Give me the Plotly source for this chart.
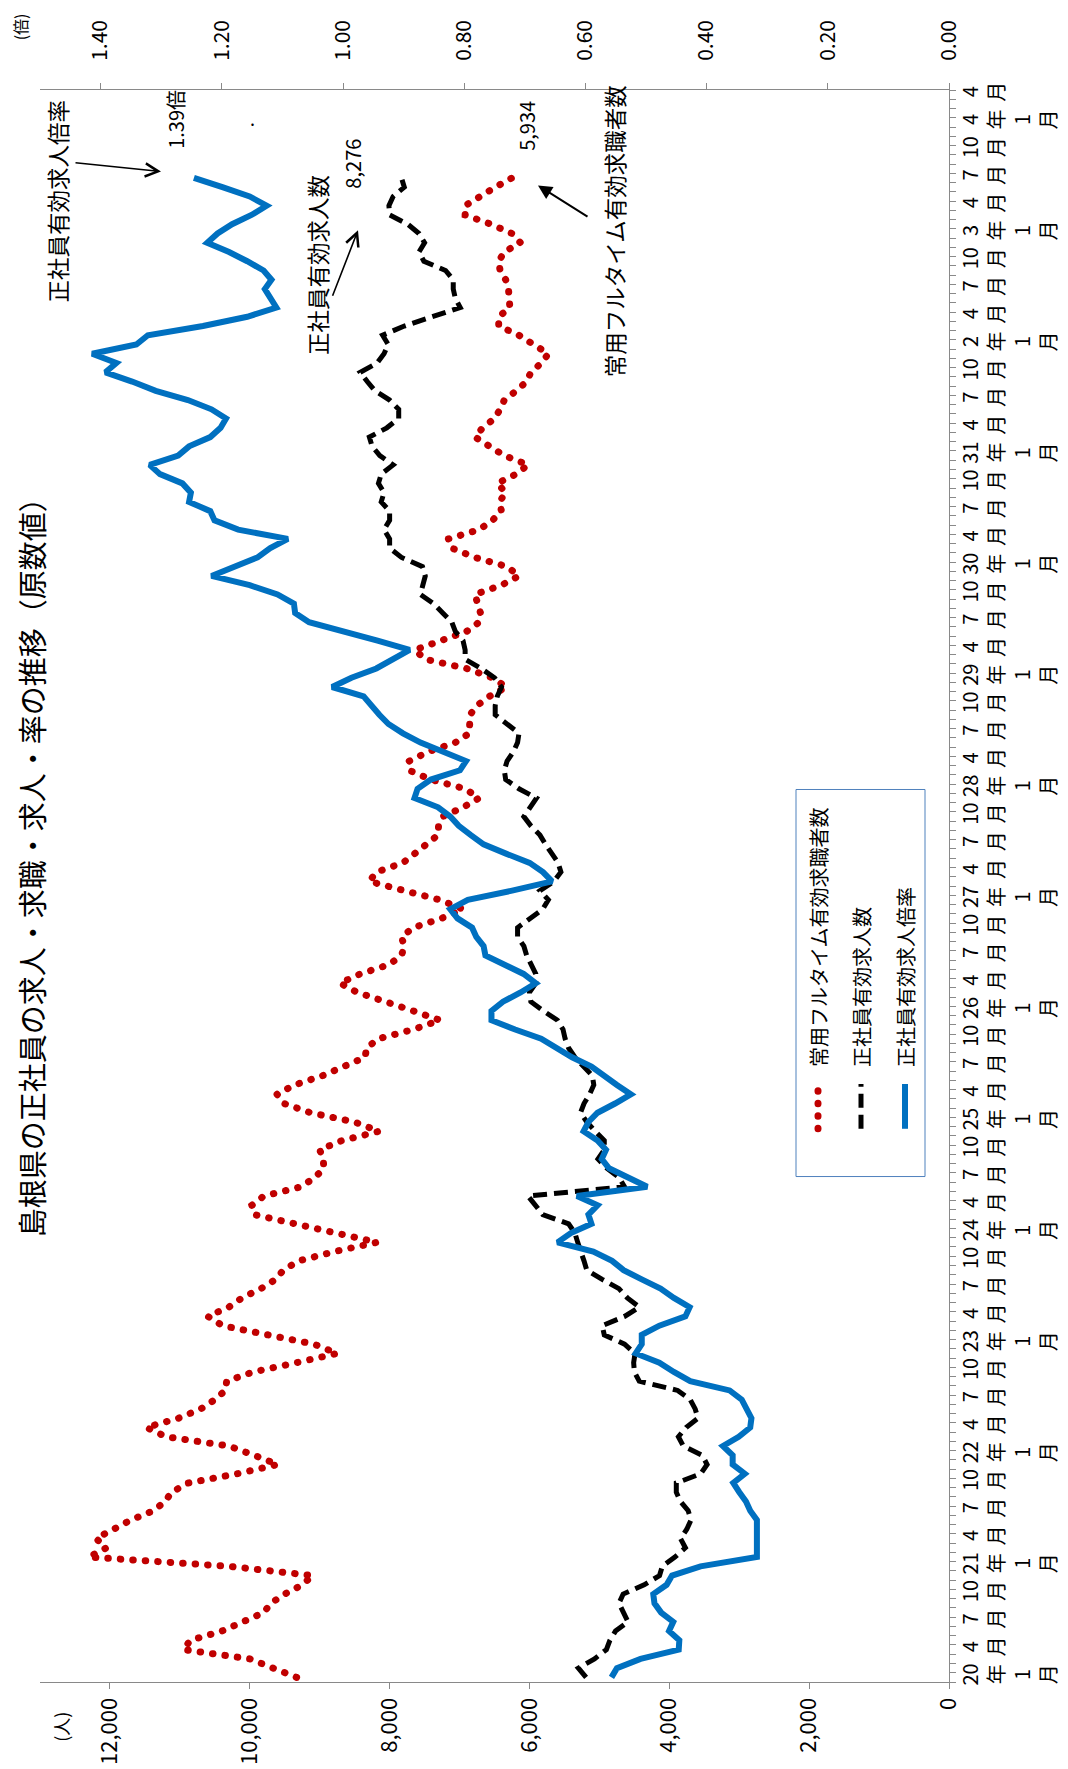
import plotly.graph_objects as go

# ---------------- data ----------------
# calendar months shown on the category axis (H20.1 .. R4.4)
months = [f"{2008 + i // 12}-{i % 12 + 1:02d}" for i in range(172)]
# Japanese era year shown on each January label
era_years = ["20", "21", "22", "23", "24", "25", "26", "27", "28", "29", "30", "31", "2", "3", "4"]

# 常用フルタイム有効求職者数 (persons), 2008-01 .. 2021-07
red = [9330, 9660, 10000, 10950, 10850, 10400, 10100, 9800, 9700, 9500, 9250, 9100,
       10300, 12300, 12050, 12200, 11950, 11700, 11380, 11210, 11120, 10880, 10180, 9600,
       9940, 10300, 11200, 11480, 11020, 10700, 10500, 10350, 10330, 9950, 9330, 8750,
       9080, 9760, 10390, 10600, 10300, 10110, 9840, 9630, 9520, 9300, 8790, 8180,
       8790, 9300, 9940, 9970, 9800, 9270, 9070, 8940, 8950, 9000, 8680, 8150,
       8500, 9130, 9510, 9610, 9360, 8960, 8630, 8350, 8330, 8160, 7660, 7280,
       7660, 8040, 8460, 8710, 8420, 8010, 7830, 7790, 7830, 7660, 7260, 6950,
       7280, 7790, 8290, 8190, 7810, 7640, 7480, 7310, 7300, 7240, 6950, 6720,
       6920, 7410, 7720, 7720, 7450, 7060, 6860, 6860, 6850, 6750, 6570, 6330,
       6530, 6900, 7490, 7640, 7240, 6900, 6720, 6700, 6740, 6780, 6400, 6150,
       6320, 6780, 7110, 7160, 6720, 6530, 6400, 6430, 6340, 6460, 6190, 6020,
       6360, 6570, 6780, 6670, 6500, 6420, 6360, 6190, 6040, 5980, 5830, 5730,
       5940, 6150, 6440, 6440, 6280, 6280, 6300, 6340, 6420, 6440, 6360, 6130,
       6250, 6550, 6920, 6920, 6720, 6490, 6250]

# 正社員有効求人数 (persons)
black = [5190, 5300, 5070, 4900, 4850, 4770, 4590, 4660, 4720, 4660, 4360, 4140,
         4100, 3920, 3770, 3840, 3750, 3690, 3730, 3840, 3900, 3900, 3550, 3460,
         3530, 3800, 3870, 3760, 3590, 3630, 3700, 3880, 4430, 4500, 4510, 4490,
         4640, 4930, 4960, 4640, 4430, 4600, 4720, 4960, 5180, 5220, 5270, 5310,
         5350, 5440, 5810, 5910, 6020, 4640, 4720, 4890, 5020, 4930, 4930, 5060,
         5180, 5270, 5220, 5140, 5080, 5100, 5220, 5350, 5440, 5490, 5520, 5600,
         5800, 5980, 6000, 5910, 5910, 5980, 6040, 6080, 6170, 6170, 5980, 5810,
         5730, 5850, 5650, 5550, 5590, 5690, 5770, 5850, 5980, 6080, 5980, 5900,
         6150, 6340, 6360, 6320, 6230, 6170, 6150, 6320, 6490, 6490, 6460, 6400,
         6500, 6690, 6920, 6920, 6950, 7060, 7110, 7240, 7370, 7560, 7530, 7490,
         7530, 7830, 8000, 8000, 8080, 8000, 8000, 8120, 8080, 8160, 8120, 7950,
         8140, 8250, 8290, 8040, 7870, 7870, 8000, 8210, 8320, 8420, 8180, 8080,
         8020, 8100, 7790, 7410, 6990, 7060, 7090, 7090, 7200, 7510, 7580, 7500,
         7580, 7740, 8000, 8010, 7950, 7790, 7830]

# 正社員有効求人倍率 (times)
blue = [0.557, 0.548, 0.509, 0.446, 0.445, 0.462, 0.455, 0.475, 0.486, 0.488, 0.466, 0.457,
        0.410, 0.317, 0.317, 0.317, 0.317, 0.317, 0.328, 0.335, 0.346, 0.356, 0.337, 0.357,
        0.357, 0.373, 0.347, 0.328, 0.326, 0.333, 0.342, 0.362, 0.427, 0.454, 0.478, 0.517,
        0.507, 0.507, 0.478, 0.435, 0.428, 0.454, 0.476, 0.507, 0.537, 0.556, 0.587, 0.646,
        0.624, 0.590, 0.595, 0.580, 0.614, 0.498, 0.527, 0.561, 0.573, 0.566, 0.580, 0.603,
        0.595, 0.580, 0.551, 0.525, 0.548, 0.568, 0.590, 0.622, 0.646, 0.673, 0.716, 0.755,
        0.755, 0.736, 0.707, 0.682, 0.702, 0.731, 0.765, 0.768, 0.780, 0.787, 0.811, 0.823,
        0.794, 0.721, 0.655, 0.670, 0.692, 0.731, 0.768, 0.789, 0.809, 0.823, 0.843, 0.882,
        0.877, 0.855, 0.807, 0.797, 0.838, 0.872, 0.901, 0.925, 0.940, 0.952, 0.966, 1.018,
        0.986, 0.945, 0.915, 0.890, 0.943, 1.003, 1.056, 1.079, 1.081, 1.108, 1.154, 1.217,
        1.180, 1.141, 1.120, 1.091, 1.173, 1.212, 1.219, 1.254, 1.251, 1.265, 1.302, 1.319,
        1.272, 1.254, 1.219, 1.202, 1.193, 1.217, 1.256, 1.309, 1.348, 1.392, 1.374, 1.414,
        1.341, 1.322, 1.231, 1.158, 1.110, 1.121, 1.129, 1.118, 1.131, 1.158, 1.188, 1.224,
        1.207, 1.183, 1.151, 1.126, 1.154, 1.199, 1.246]

people_ticks = [0, 2000, 4000, 6000, 8000, 10000, 12000]
ratio_ticks = [0.0, 0.2, 0.4, 0.6, 0.8, 1.0, 1.2, 1.4]

series_names = ["常用フルタイム有効求職者数", "正社員有効求人数", "正社員有効求人倍率"]
title_text = "島根県の正社員の求人・求職・求人・率の推移（原数値）"
end_labels = ["1.39倍", "8,276", "5,934"]

# ---------------- layout helpers ----------------
W, H = 1068, 1769
PL, PR, PT, PB = 32, 941, 80, 1680   # plot area in pixels
FONT = "Noto Sans CJK JP"
RED, BLK, BLU, AX = "#C00000", "#000000", "#0070C0", "#898989"
RED_LINE = dict(color=RED, width=7, dash="0.5px,12px")   # round caps added in the page
BLK_LINE = dict(color=BLK, width=5, dash="14px,7px")
BLU_LINE = dict(color=BLU, width=6)


def fx(p):
    return (p - PL) / (PR - PL)


def fy(p):
    return (PB - p) / (PB - PT)


pos = list(range(len(months)))
tick_pos, tick_text = [], []
for i in pos:
    mo = i % 12 + 1
    if mo in (1, 4, 7, 10):
        tick_pos.append(i)
        if mo == 1:
            tick_text.append(f"{era_years[i // 12]}<br>年<br>1<br>月")
        else:
            tick_text.append(f"{mo}<br>月")

fig = go.Figure()
fig.add_trace(go.Scatter(x=red, y=pos[:len(red)], mode="lines", name=series_names[0],
                         line=RED_LINE, xaxis="x", yaxis="y"))
fig.add_trace(go.Scatter(x=black, y=pos[:len(black)], mode="lines", name=series_names[1],
                         line=BLK_LINE, xaxis="x", yaxis="y"))
fig.add_trace(go.Scatter(x=blue, y=pos[:len(blue)], mode="lines", name=series_names[2],
                         line=BLU_LINE, xaxis="x2", yaxis="y"))

fig.update_layout(
    width=W, height=H, autosize=False,
    margin=dict(l=PL, r=W - PR, t=PT, b=H - PB, pad=0),
    paper_bgcolor="white", plot_bgcolor="white",
    showlegend=False,
    font=dict(family=FONT, color="#000000"),
    xaxis=dict(range=[13000, 0], tickvals=people_ticks,
               ticktext=[f"{v:,}" for v in people_ticks], tickangle=-90,
               ticks="outside", ticklen=6, tickcolor=AX, showline=True, linecolor=AX,
               linewidth=1, showgrid=False, zeroline=False, tickfont=dict(size=22)),
    xaxis2=dict(range=[1.5, 0], tickvals=ratio_ticks,
                ticktext=[f"{v:.2f}" for v in ratio_ticks], tickangle=-90,
                overlaying="x", side="top", anchor="y", ticklabelstandoff=18,
                ticks="outside", ticklen=6, tickcolor=AX, showline=True, linecolor=AX,
                linewidth=1, showgrid=False, zeroline=False, tickfont=dict(size=21)),
    yaxis=dict(range=[-0.5, len(months) - 0.5], side="right", tickvals=tick_pos,
               ticktext=tick_text, tickangle=-90, ticks="", showline=True,
               linecolor=AX, linewidth=1, showgrid=False, zeroline=False,
               tickfont=dict(size=20), ticklabelstandoff=4,
               minor=dict(ticks="outside", tick0=-0.5, dtick=1, ticklen=6,
                          tickcolor=AX, tickwidth=1, showgrid=False)),
)


def rot_text(text, x, y, size, yanchor="middle"):
    return dict(text=text, x=fx(x), y=fy(y), xref="paper", yref="paper",
                textangle=-90, showarrow=False, font=dict(size=size),
                xanchor="center", yanchor=yanchor)


ann = [
    rot_text(title_text, 23, 854, 29),
    rot_text("(倍)", 12, 17, 16),
    rot_text("(人)", 53, 1725, 18),
    rot_text(series_names[2], 49, 192, 22.5),
    rot_text(series_names[1], 309, 256, 22.5),
    rot_text(series_names[0], 606, 222, 22.5),
    rot_text(end_labels[0], 168, 110, 20),
    rot_text(end_labels[1], 345, 154, 20),
    rot_text(end_labels[2], 519, 116, 20),
    dict(text=".", x=fx(244), y=fy(108), xref="paper", yref="paper",
         showarrow=False, font=dict(size=18), xanchor="center", yanchor="middle"),
    # arrows (head at x,y ; tail offset ax,ay in px)
    dict(text="", x=fx(153), y=fy(162), xref="paper", yref="paper",
         showarrow=True, ax=-87, ay=-9, arrowhead=5, arrowsize=1.6,
         arrowwidth=1.6, arrowcolor="#000000"),
    dict(text="", x=fx(350), y=fy(221), xref="paper", yref="paper",
         showarrow=True, ax=-26, ay=67, arrowhead=5, arrowsize=1.6,
         arrowwidth=1.6, arrowcolor="#000000"),
    dict(text="", x=fx(530), y=fy(176), xref="paper", yref="paper",
         showarrow=True, ax=51, ay=32, arrowhead=2, arrowsize=1.4,
         arrowwidth=2, arrowcolor="#000000"),
]

# legend (drawn rotated like the rest of the chart)
LX0, LX1, LY0, LY1 = 788, 917, 783, 1172
shapes = [dict(type="rect", xref="paper", yref="paper", x0=fx(LX0), x1=fx(LX1),
               y0=fy(LY1), y1=fy(LY0), line=dict(color="#4F81BD", width=1),
               fillcolor="rgba(0,0,0,0)")]
leg_x = [810, 853, 897]
for lx, st, nm in zip(leg_x, [RED_LINE, BLK_LINE, BLU_LINE], series_names):
    shapes.append(dict(type="line", xref="paper", yref="paper", x0=fx(lx), x1=fx(lx),
                       y0=fy(1124), y1=fy(1079), line=st))
    ann.append(dict(text=nm, x=fx(lx), y=fy(1064), xref="paper", yref="paper",
                    textangle=-90, showarrow=False, font=dict(size=20),
                    xanchor="center", yanchor="bottom"))

fig.update_layout(annotations=ann, shapes=shapes)

# Excel-style round dots for the dotted series
round_dots = """
var gd = document.getElementById('{plot_id}');
function roundDots() {
  gd.querySelectorAll('path').forEach(function (p) {
    if (p.style.stroke === 'rgb(192, 0, 0)') { p.style.strokeLinecap = 'round'; }
  });
}
roundDots();
if (gd.on) { gd.on('plotly_afterplot', roundDots); }
"""
fig.write_html("out.html", post_script=round_dots)
